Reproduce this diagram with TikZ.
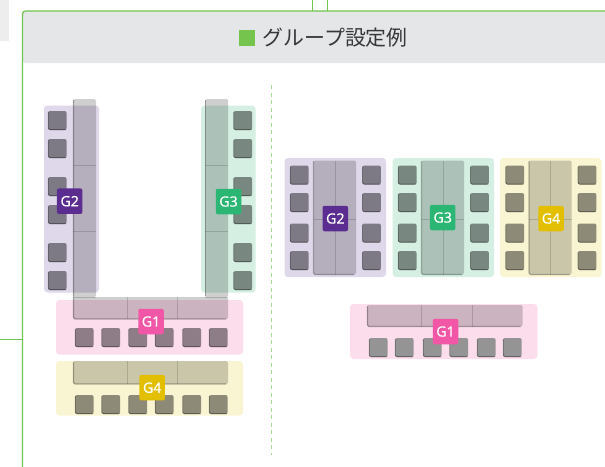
\documentclass[tikz,border=0pt]{standalone}
\usepackage{fontspec}
\setmainfont{Noto Sans}
\newfontfamily\cjkfont{Noto Sans CJK JP}
\newfontfamily\badgefont[FakeBold=.25]{Noto Sans}
\definecolor{framegreen}{HTML}{74C44E}
\definecolor{dashgreen}{HTML}{A8D996}
\definecolor{headgray}{HTML}{E4E6E8}
\definecolor{panelG1}{HTML}{FBDDEC}
\definecolor{panelG2}{HTML}{DFD8EA}
\definecolor{panelG3}{HTML}{D5EFE3}
\definecolor{panelG4}{HTML}{F9F5D2}
\definecolor{badgeG1}{HTML}{F157A6}
\definecolor{badgeG2}{HTML}{5B2D91}
\definecolor{badgeG3}{HTML}{2BB673}
\definecolor{badgeG4}{HTML}{E2BF00}
\tikzset{
  panel/.style={rounded corners=3.5pt, fill=#1},
  desk/.style={rounded corners=1.5pt, fill=black, fill opacity=.19},
  deskedge/.style={rounded corners=1.5pt, draw=black, draw opacity=.27, line width=1.3pt},
  deskline/.style={draw=black, draw opacity=.15, line width=.8pt},
  seatedge/.style={rounded corners=2pt, draw=black, draw opacity=.32, line width=.9pt},
  badge/.style={rounded corners=2pt, fill=#1, text=white, minimum width=25.5pt, minimum height=25.5pt,
    inner sep=0pt, font=\badgefont\fontsize{14.2}{15}\selectfont},
}
% seat from its top left corner
\newcommand{\seatbox}[2]{
  \fill[black, fill opacity=.43, rounded corners=2pt] (#1,#2) rectangle ++(18.6,19);
  \draw[seatedge] (#1+.2,#2+1) -- (#1+.2,#2+18.6) -- (#1+18,#2+18.6);
}
\newcommand{\greyseat}[2]{
  \fill[black!42, rounded corners=2pt] (#1,#2) rectangle ++(18.6,19);
  \draw[seatedge] (#1+.2,#2+1) -- (#1+.2,#2+18.6) -- (#1+18,#2+18.6);
}
\begin{document}
\begin{tikzpicture}[x=1pt, y=-1pt]
  \clip (0,0) rectangle (605,466);
  \fill[white] (0,0) rectangle (605,466);

  % outside of the frame
  \fill[black!7] (0,0) rectangle (9,41);
  \draw[framegreen, line width=1pt] (0,339.5) -- (22,339.5);
  \draw[framegreen, line width=1pt] (312.5,0) -- (312.5,11);
  \draw[framegreen, line width=1pt] (327.5,0) -- (327.5,11);

  % frame and header
  \fill[headgray, rounded corners=3pt] (22.5,11) rectangle (620,63);
  \draw[framegreen, line width=1.3pt, rounded corners=3pt] (22.5,480) -- (22.5,11) -- (620,11);
  \fill[framegreen] (239,30) rectangle (255,45.5);
  \node[anchor=west, inner sep=0pt, text=black!78, font=\cjkfont\fontsize{20.9}{22}\selectfont] (title) at (262.5,37.5) {グループ設定例};
  \draw[dashgreen, line width=1pt, dash pattern=on 4pt off 3.5pt] (271,85) -- (271,455);

  % U layout, panels
  \fill[panel=panelG2] (44,105.5) rectangle (99,292.5);
  \fill[panel=panelG3] (201,105.5) rectangle (255.5,292.5);
  \fill[panel=panelG1] (56,300) rectangle (243,354.5);
  \fill[panel=panelG4] (56,361) rectangle (243,415.5);

  % U layout, seats
  \foreach \y in {111,139,177,205,243,271} {
    \seatbox{48}{\y}
    \seatbox{233.5}{\y}
  }
  \foreach \x in {75,101.5,128.5,155,182.5,209} {
    \seatbox{\x}{328}
    \seatbox{\x}{395}
  }

  % U layout, desks
  \fill[desk] (73,99) rectangle (96,297);
  \fill[desk] (205,99) rectangle (228,297);
  \fill[desk] (73,297) rectangle (228,319);
  \fill[desk] (73,361) rectangle (228,384);
  \draw[deskedge] (73.5,100) -- (73.5,319) -- (226,319);
  \draw[deskedge] (205.5,100) -- (205.5,296);
  \draw[deskedge] (73.5,362) -- (73.5,384) -- (226,384);
  \foreach \y in {165.5,231,297} {
    \draw[deskline] (73,\y) -- (96,\y);
    \draw[deskline] (205,\y) -- (228,\y);
  }
  \foreach \x in {127,177} {
    \draw[deskline] (\x,297) -- (\x,319);
    \draw[deskline] (\x,361) -- (\x,384);
  }

  % separate tables, panels
  \fill[panel=panelG2] (284.5,158) rectangle (386,277);
  \fill[panel=panelG3] (392.5,158) rectangle (494,277);
  \fill[panel=panelG4] (500,158) rectangle (601.5,277);
  \fill[panel=panelG1] (350,304) rectangle (537.5,359);

  % separate tables, seats and desks
  \foreach \x in {290,398,505.5} {
    \foreach \y in {165.5,193,223.5,251} {
      \seatbox{\x}{\y}
      \seatbox{\x+72.3}{\y}
    }
    \fill[desk] (\x+23.5,160.5) rectangle (\x+66,274.5);
    \draw[deskedge] (\x+23.5,161) -- (\x+23.5,274.5) -- (\x+64,274.5);
    \draw[deskline] (\x+45,160.5) -- (\x+45,274.5);
    \draw[deskline] (\x+23.5,219) -- (\x+66,219);
  }
  \foreach \x in {369,395,423,449.5,477,503} {
    \greyseat{\x}{338}
  }
  \fill[desk] (367,305) rectangle (522.5,326.5);
  \draw[deskedge] (367.5,306) -- (367.5,326.5) -- (520.5,326.5);
  \foreach \x in {421,472} {
    \draw[deskline] (\x,305) -- (\x,326.5);
  }

  % badges
  \node[badge=badgeG2] (leftG2) at (69.7,201.2) {G2};
  \node[badge=badgeG3] (leftG3) at (228.5,201.5) {G3};
  \node[badge=badgeG1] (leftG1) at (151,321.5) {G1};
  \node[badge=badgeG4] (leftG4) at (152.2,387.7) {G4};
  \node[badge=badgeG2] (rightG2) at (335.3,218.5) {G2};
  \node[badge=badgeG3] (rightG3) at (442.7,217.5) {G3};
  \node[badge=badgeG4] (rightG4) at (551,218.5) {G4};
  \node[badge=badgeG1] (rightG1) at (445.5,331.5) {G1};
\end{tikzpicture}
\end{document}
